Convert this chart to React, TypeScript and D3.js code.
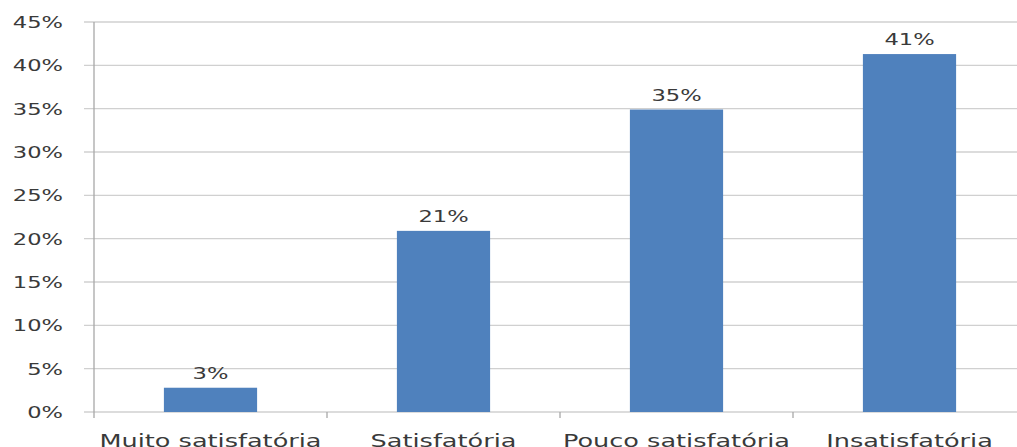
import React from "react";
import * as d3 from "d3";

const categories = ["Muito satisfatória", "Satisfatória", "Pouco satisfatória", "Insatisfatória"];
const values = [0.028, 0.209, 0.349, 0.413];
const valueLabels = ["3%", "21%", "35%", "41%"];
const yTicks = [0, 0.05, 0.1, 0.15, 0.2, 0.25, 0.3, 0.35, 0.4, 0.45];

const W = 1017;
const H = 447;
const M = { left: 94, right: -9, top: 22, bottom: 35 };

export default function App() {
  const x = d3
    .scaleBand<string>()
    .domain(categories)
    .range([M.left, W - M.right])
    .paddingInner(0.6)
    .paddingOuter(0.3);
  const bandStep = x.step();
  const y = d3.scaleLinear().domain([0, 0.45]).range([H - M.bottom, M.top]);
  const fmt = d3.format(".0%");
  const font = "'DejaVu Sans', Verdana, sans-serif";
  const textColor = "#3a3a3a";
  const y0 = y(0);
  const sx = 1.37;

  return (
    <svg width={W} height={H} style={{ position: "absolute", left: 0, top: 0, background: "#fff" }}>
      {yTicks.map((t) => (
        <g key={t}>
          <line x1={M.left - 10} x2={W} y1={y(t)} y2={y(t)} stroke="#d0d0d0" strokeWidth={1.3} />
          <text
            transform={`translate(63,${y(t)}) scale(${sx},1)`}
            dy="0.36em"
            textAnchor="end"
            fontFamily={font}
            fontSize={16.5}
            fill={textColor}
          >
            {fmt(t)}
          </text>
        </g>
      ))}
      <line x1={M.left} x2={M.left} y1={M.top} y2={y0 + 6} stroke="#a8a8a8" strokeWidth={1.3} />
      {categories.map((c, i) => {
        const bx = x(c)!;
        const bw = x.bandwidth();
        const cx = bx + bw / 2;
        const left = cx - bandStep / 2;
        return (
          <g key={c}>
            {i > 0 && <line x1={left} x2={left} y1={y0} y2={y0 + 6} stroke="#a8a8a8" strokeWidth={1.3} />}
            <rect x={bx} y={y(values[i])} width={bw} height={y0 - y(values[i])} fill="#4f81bd" />
            <text
              transform={`translate(${cx},${y(values[i]) - 9}) scale(${sx},1)`}
              textAnchor="middle"
              fontFamily={font}
              fontSize={16.5}
              fill={textColor}
            >
              {valueLabels[i]}
            </text>
            <text
              transform={`translate(${cx},${H}) scale(1.42,1)`}
              textAnchor="middle"
              fontFamily={font}
              fontSize={18}
              fill={textColor}
            >
              {c}
            </text>
          </g>
        );
      })}
    </svg>
  );
}
